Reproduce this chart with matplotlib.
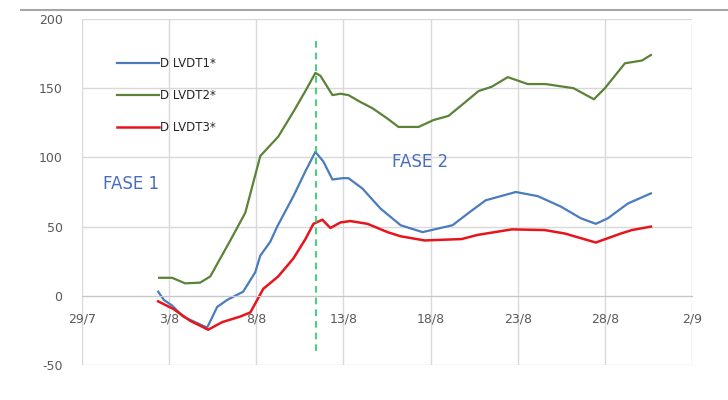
import matplotlib.pyplot as plt

plt.rcParams["axes.unicode_minus"] = False

# days counted from 29/7
tick_days = [0, 5, 10, 15, 20, 25, 30, 35]
tick_labels = ["29/7", "3/8", "8/8", "13/8", "18/8", "23/8", "28/8", "2/9"]

# D LVDT1*
days_1 = [4.37, 4.7, 5.17, 5.8, 7.18, 7.76, 8.33, 9.25, 9.94, 10.23, 10.8, 11.2, 12.13,
          12.82, 13.39, 13.85, 14.37, 14.94, 15.29, 16.09, 17.13, 18.28, 19.54, 20.4,
          21.26, 22.3, 23.16, 24.89, 26.15, 27.47, 28.62, 29.48, 30.17, 31.32, 32.64]
lvdt1 = [3, -3, -7, -15, -23, -8, -3, 3, 17, 29, 39, 50, 72,
         90, 104, 97, 84, 85, 85, 77.5, 63, 51, 46, 48.5,
         51, 61, 69, 75, 72, 64.5, 56, 52, 56, 66.7, 74]

# D LVDT2*
days_2 = [4.43, 5.17, 5.92, 6.78, 7.36, 8.51, 9.37, 10.23, 11.26, 12.13, 12.82, 13.39,
          13.68, 14.37, 14.83, 15.29, 15.98, 16.67, 17.53, 18.16, 19.31, 20.17, 21.03,
          21.9, 22.76, 23.5, 24.43, 25.57, 26.6, 28.2, 29.37, 30.0, 31.15, 32.13, 32.64]
lvdt2 = [13, 13, 9, 9.5, 14, 40, 60, 101, 115, 133, 148, 161,
         159, 145, 146, 145, 140, 135.5, 128, 122, 122, 127, 130,
         139, 148, 151, 158, 153, 153, 150, 142, 150, 168, 170, 174]

# D LVDT3*
days_3 = [4.37, 5.23, 6.2, 7.24, 8.05, 9.08, 9.66, 10.4, 11.26, 12.13, 12.82, 13.28,
          13.79, 14.25, 14.83, 15.4, 16.38, 17.53, 18.28, 19.66, 21.78, 22.7, 24.66,
          26.55, 27.7, 29.48, 30.92, 31.55, 32.64]
lvdt3 = [-4, -9.4, -18, -24.5, -19, -15, -12, 5, 14, 27, 41, 52,
         55, 49, 53, 54, 52, 46, 43, 40, 41, 44, 48,
         47.5, 45, 38.5, 45, 47.5, 50]

phase_change_day = 13.45
phase_line_range = [-40, 187]

fig = plt.figure(figsize=(7.28, 4.0), dpi=100)
ax = fig.add_axes([0.1126, 0.0875, 0.838, 0.865])

grid_col = "#d9d9d9"
text_col = "#595959"

ax.plot(days_1, lvdt1, color="#4a7cbd", lw=1.6, label="D LVDT1*")
ax.plot(days_2, lvdt2, color="#5c8238", lw=1.6, label="D LVDT2*")
ax.plot(days_3, lvdt3, color="#e8141c", lw=1.8, label="D LVDT3*")

ax.plot([phase_change_day, phase_change_day], phase_line_range,
        color="#22cc66", lw=1.2, ls=(0, (4, 3)))

ax.text(1.2, 81, "FASE 1", color="#4a6cc0", fontsize=12, va="center")
ax.text(17.8, 97, "FASE 2", color="#4a6cc0", fontsize=12, va="center")

ax.set_xlim(0, 35)
ax.set_ylim(-50, 200)
ax.set_xticks(tick_days)
ax.set_xticklabels(tick_labels)
ax.set_yticks([-50, 0, 50, 100, 150, 200])

ax.grid(True, color=grid_col, lw=1)
ax.set_axisbelow(True)
for side in ["top", "right", "left"]:
    ax.spines[side].set_visible(False)
ax.spines["bottom"].set_position(("data", 0))
ax.spines["bottom"].set_color("#c8c8c8")
ax.tick_params(axis="x", length=0, pad=12, labelsize=9, labelcolor=text_col)
ax.tick_params(axis="y", length=0, pad=14, labelsize=9, labelcolor=text_col)

ax.legend(loc="upper left", bbox_to_anchor=(0.057, 0.89), frameon=False,
          fontsize=8.5, handlelength=3.6, handletextpad=0.1, labelspacing=1.6,
          borderpad=0, borderaxespad=0, labelcolor="#262626")

fig.add_artist(plt.Line2D([0.029, 1.0], [0.975, 0.975], color="#a6a6a6", lw=1.5))

fig.savefig("out.png", dpi=100)
